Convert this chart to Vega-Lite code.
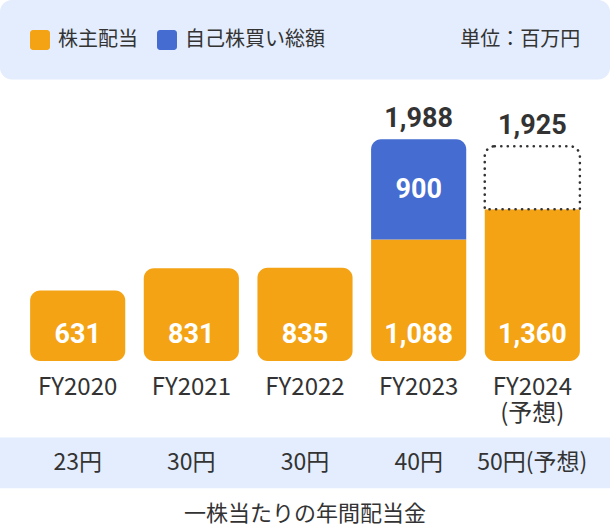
{
  "$schema": "https://vega.github.io/schema/vega-lite/v6.json",
  "width": 610,
  "height": 526,
  "padding": 0,
  "autosize": {"type": "fit", "contains": "padding"},
  "background": "white",
  "config": {
    "view": {"stroke": null},
    "font": "Noto Sans CJK JP",
    "text": {"font": "Noto Sans CJK JP", "color": "#333333"}
  },
  "data": {
    "values": [
      {"fy": "FY2020", "label": "FY2020", "dividend": 631, "buyback": 0, "total": 631, "forecast": false, "dps": "23円"},
      {"fy": "FY2021", "label": "FY2021", "dividend": 831, "buyback": 0, "total": 831, "forecast": false, "dps": "30円"},
      {"fy": "FY2022", "label": "FY2022", "dividend": 835, "buyback": 0, "total": 835, "forecast": false, "dps": "30円"},
      {"fy": "FY2023", "label": "FY2023", "dividend": 1088, "buyback": 900, "total": 1988, "forecast": false, "dps": "40円"},
      {"fy": "FY2024", "label": "FY2024\n(予想)", "dividend": 1360, "buyback": 565, "total": 1925, "forecast": true, "dps": "50円(予想)"}
    ]
  },
  "encoding": {
    "x": {
      "field": "fy",
      "type": "nominal",
      "axis": null,
      "sort": null,
      "scale": {"domain": ["FY2020", "FY2021", "FY2022", "FY2023", "FY2024"], "paddingInner": 0.163, "paddingOuter": 0.265}
    }
  },
  "layer": [
    {
      "data": {"values": [{"panel": "header"}]},
      "mark": {"type": "rect", "fill": "#E3EDFD", "cornerRadius": 12},
      "encoding": {
        "x": {"value": 0},
        "x2": {"value": "width"},
        "y": {"datum": 3236.1, "type": "quantitative", "axis": null, "scale": {"domain": [-1453.1, 3236.1], "nice": false, "zero": false}},
        "y2": {"datum": 2522.9}
      }
    },
    {
      "data": {"values": [{"panel": "footer"}]},
      "mark": {"type": "rect", "fill": "#E3EDFD"},
      "encoding": {
        "x": {"value": 0},
        "x2": {"value": "width"},
        "y": {"datum": -686.4, "type": "quantitative"},
        "y2": {"datum": -1141.1}
      }
    },
    {
      "transform": [{"filter": "datum.buyback == 0"}],
      "mark": {"type": "bar", "cornerRadius": 10},
      "encoding": {
        "y": {"field": "dividend", "type": "quantitative"},
        "y2": {"datum": 0},
        "color": {
          "datum": "株主配当",
          "scale": {"domain": ["株主配当", "自己株買い総額"], "range": ["#F4A314", "#456CD1"]},
          "legend": {
            "orient": "none",
            "legendX": 30,
            "legendY": 30,
            "direction": "horizontal",
            "title": null,
            "padding": 0,
            "symbolType": "M-1,-0.7A0.3,0.3 0 0 1 -0.7,-1H0.7A0.3,0.3 0 0 1 1,-0.7V0.7A0.3,0.3 0 0 1 0.7,1H-0.7A0.3,0.3 0 0 1 -1,0.7Z",
            "symbolSize": 400,
            "symbolStrokeWidth": 0,
            "symbolOpacity": 1,
            "labelFontSize": 20,
            "labelColor": "#333333",
            "labelFont": "Noto Sans CJK JP",
            "labelOffset": 8,
            "labelLimit": 300,
            "columnPadding": 19
          }
        }
      }
    },
    {
      "transform": [{"filter": "datum.buyback > 0"}],
      "mark": {"type": "bar", "cornerRadiusBottomLeft": 10, "cornerRadiusBottomRight": 10},
      "encoding": {
        "y": {"field": "dividend", "type": "quantitative"},
        "y2": {"datum": 0},
        "color": {"datum": "株主配当"}
      }
    },
    {
      "transform": [{"filter": "datum.buyback > 0 && !datum.forecast"}],
      "mark": {"type": "bar", "cornerRadiusTopLeft": 10, "cornerRadiusTopRight": 10},
      "encoding": {
        "y": {"field": "total", "type": "quantitative"},
        "y2": {"field": "dividend"},
        "color": {"datum": "自己株買い総額"}
      }
    },
    {
      "transform": [{"filter": "datum.forecast"}],
      "mark": {"type": "bar", "fill": "white", "stroke": "#333333", "strokeWidth": 2.6, "strokeDash": [0.1, 6.4], "strokeCap": "round", "cornerRadiusTopLeft": 10, "cornerRadiusTopRight": 10},
      "encoding": {
        "y": {"field": "total", "type": "quantitative"},
        "y2": {"field": "dividend"}
      }
    },
    {
      "mark": {"type": "text", "color": "white", "font": "Roboto", "fontWeight": "bold", "fontSize": 27, "baseline": "alphabetic", "dy": -18},
      "encoding": {
        "y": {"datum": 0, "type": "quantitative"},
        "text": {"field": "dividend", "type": "quantitative", "format": ","}
      }
    },
    {
      "transform": [{"filter": "datum.buyback > 0 && !datum.forecast"}],
      "mark": {"type": "text", "color": "white", "font": "Roboto", "fontWeight": "bold", "fontSize": 27, "baseline": "middle", "dy": 51},
      "encoding": {
        "y": {"field": "total", "type": "quantitative"},
        "text": {"field": "buyback", "type": "quantitative", "format": ","}
      }
    },
    {
      "transform": [{"filter": "datum.buyback > 0"}],
      "mark": {"type": "text", "color": "#333333", "font": "Roboto", "fontWeight": "bold", "fontSize": 27, "baseline": "alphabetic", "dy": -12},
      "encoding": {
        "y": {"field": "total", "type": "quantitative"},
        "text": {"field": "total", "type": "quantitative", "format": ","}
      }
    },
    {
      "mark": {"type": "text", "fontSize": 24, "baseline": "alphabetic", "dy": 34, "lineBreak": "\n", "lineHeight": 26},
      "encoding": {
        "y": {"datum": 0, "type": "quantitative"},
        "text": {"field": "label", "type": "nominal"}
      }
    },
    {
      "mark": {"type": "text", "fontSize": 23, "baseline": "middle"},
      "encoding": {
        "y": {"datum": -918.2, "type": "quantitative"},
        "text": {"field": "dps", "type": "nominal"}
      }
    },
    {
      "data": {"values": [{"caption": "一株当たりの年間配当金"}]},
      "mark": {"type": "text", "fontSize": 22, "baseline": "middle"},
      "encoding": {
        "x": {"datum": "FY2022"},
        "y": {"datum": -1372.9, "type": "quantitative"},
        "text": {"field": "caption", "type": "nominal"}
      }
    },
    {
      "data": {"values": [{"unit": "単位：百万円"}]},
      "mark": {"type": "text", "fontSize": 20, "baseline": "middle", "align": "right", "dx": 48},
      "encoding": {
        "x": {"datum": "FY2024"},
        "y": {"datum": 2879.5, "type": "quantitative"},
        "text": {"field": "unit", "type": "nominal"}
      }
    }
  ]
}
